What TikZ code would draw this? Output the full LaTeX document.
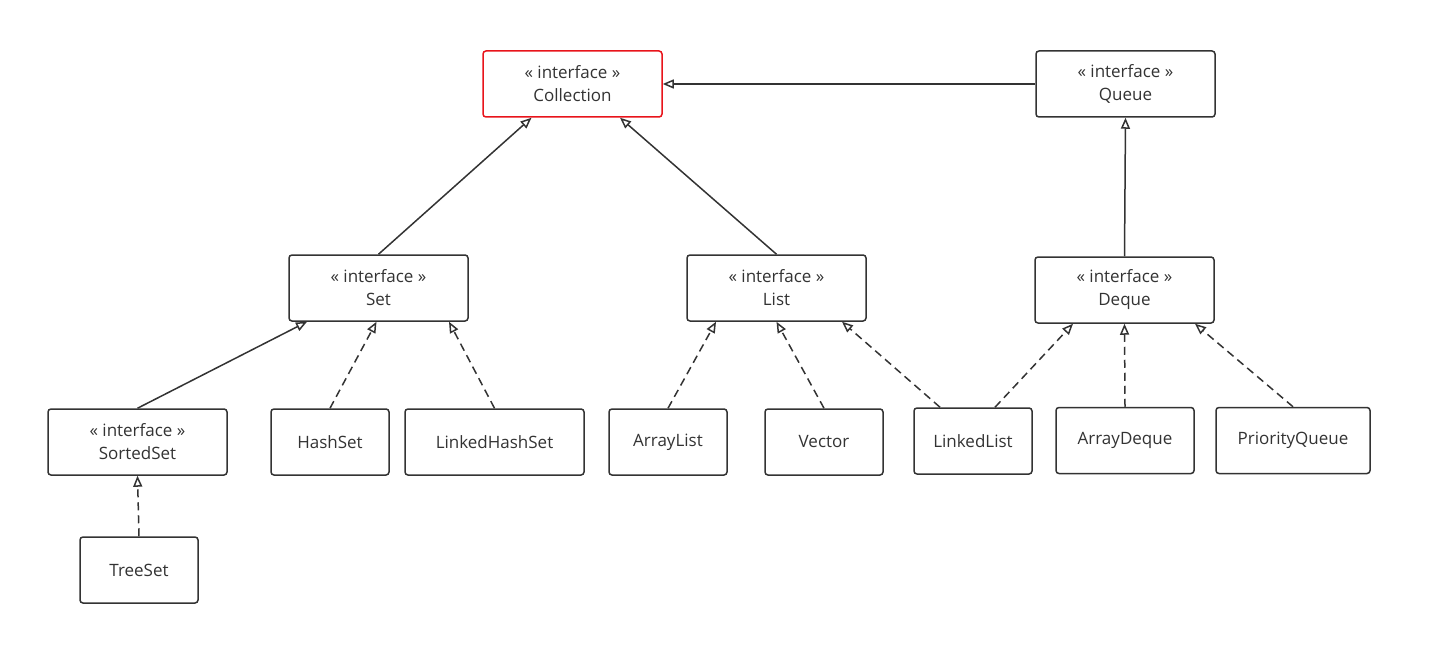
\documentclass[tikz,border=0pt]{standalone}
\usepackage{fontspec}
\setmainfont{Open Sans}
\usepackage{xcolor}
\usetikzlibrary{arrows.meta, positioning}

\definecolor{ink}{HTML}{333333}
\definecolor{hot}{HTML}{E8141B}

\begin{document}
\begin{tikzpicture}[
  x=1pt, y=-1pt,
  cls/.style={rectangle, rounded corners=3pt, draw=ink, line width=1.5pt, fill=white,
    minimum width=179pt, minimum height=66pt, align=center, text=ink,
    font=\fontsize{17}{23}\selectfont},
  small/.style={cls, minimum width=118pt},
  ext/.style={-{Triangle[open, length=11pt, width=9pt]}, line width=1.5pt, draw=ink},
  impl/.style={ext, dash pattern=on 8pt off 5pt}
]
  \useasboundingbox (0,0) rectangle (1432,663);

  % interfaces
  \node[cls, draw=hot] (coll) at (572.5,84) {« interface »\\Collection};
  \node[cls] (queue) at (1125.5,84) {« interface »\\Queue};
  \node[cls] (set) at (378.5,288) {« interface »\\Set};
  \node[cls] (list) at (776.5,288) {« interface »\\List};
  \node[cls] (deque) at (1124.5,290) {« interface »\\Deque};
  \node[cls] (sorted) at (137.5,442) {« interface »\\SortedSet};

  % classes
  \node[small] (hashset) at (330,442) {HashSet};
  \node[cls] (lhashset) at (494.5,442) {LinkedHashSet};
  \node[small] (alist) at (668,442) {ArrayList};
  \node[small] (vector) at (824,442) {Vector};
  \node[small] (llist) at (973,441) {LinkedList};
  \node[small, minimum width=138pt] (adeque) at (1125,440.5) {ArrayDeque};
  \node[small, minimum width=154pt] (pqueue) at (1293,440.5) {PriorityQueue};
  \node[small] (treeset) at (139,570) {TreeSet};

  % extends
  \draw[ext] (queue.west) -- (coll.east);
  \draw[ext] (set.north) -- ([xshift=-41pt]coll.south);
  \draw[ext] (list.north) -- ([xshift=47.5pt]coll.south);
  \draw[ext] (deque.north) -- (queue.south);
  \draw[ext] (sorted.north) -- ([xshift=-71.5pt]set.south);

  % implements
  \draw[impl] (hashset.north) -- ([xshift=-2pt]set.south);
  \draw[impl] (lhashset.north) -- ([xshift=70.5pt]set.south);
  \draw[impl] (alist.north) -- ([xshift=-60.5pt]list.south);
  \draw[impl] (vector.north) -- (list.south);
  \draw[impl] ([xshift=-33pt]llist.north) -- ([xshift=65.5pt]list.south);
  \draw[impl] ([xshift=22pt]llist.north) -- ([xshift=-51.5pt]deque.south);
  \draw[impl] (adeque.north) -- (deque.south);
  \draw[impl] (pqueue.north) -- ([xshift=70.5pt]deque.south);
  \draw[impl] (treeset.north) -- (sorted.south);
\end{tikzpicture}
\end{document}
